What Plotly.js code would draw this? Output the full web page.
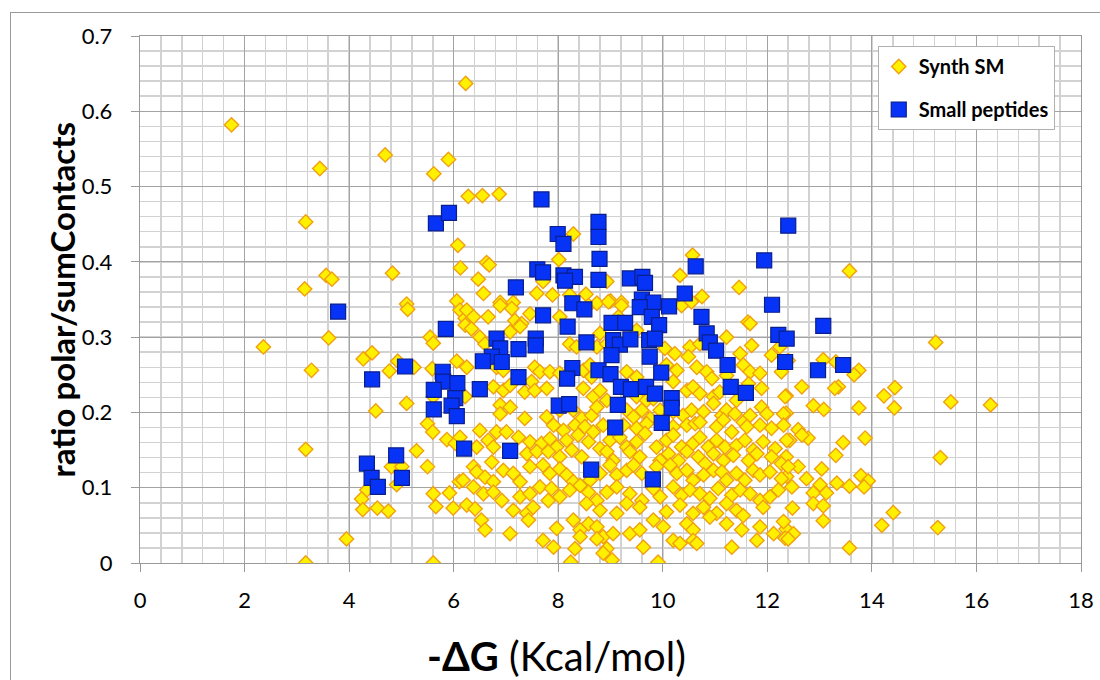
<!DOCTYPE html>
<html>
<head>
<meta charset="utf-8">
<script src="https://cdn.plot.ly/plotly-3.0.1.min.js"></script>
<style>
  html, body { margin: 0; padding: 0; background: #ffffff; overflow: hidden; }
  #frame { position: absolute; left: 10px; top: 12px; width: 1200px; height: 800px; border: 1px solid #9a9a9a; }
  #chart { position: absolute; left: 0; top: 0; width: 1100px; height: 680px; }
</style>
</head>
<body>
<div id="frame"></div>
<div id="chart"></div>
<script>
// ---- Data: Synth SM (x = -ΔG kcal/mol, y = ratio polar/sumContacts) ----
const synthSparse = [
  [6.23,0.637],[1.75,0.582],[4.69,0.542],[3.44,0.524],[5.90,0.536],[5.62,0.517],[6.28,0.487],[3.17,0.453],
  [6.08,0.422],[6.13,0.392],[3.56,0.382],[3.67,0.377],[4.83,0.385],[3.15,0.364],[6.06,0.348],[5.10,0.344],
  [6.55,0.488],[6.87,0.490],[8.29,0.437],[6.63,0.399],[6.68,0.396],[8.01,0.403],[6.47,0.377],[10.57,0.409],
  [10.33,0.382],[11.46,0.366],[10.75,0.354],[6.57,0.358],[7.59,0.358],[7.89,0.356],[8.53,0.357],[8.93,0.374],
  [7.71,0.374],[6.89,0.346],[7.14,0.346],[8.22,0.356],[9.00,0.348],[9.21,0.346],[13.57,0.388],[11.63,0.320],
  [5.12,0.337],[3.61,0.299],[2.36,0.287],[4.27,0.271],[4.44,0.279],[3.28,0.256],[4.77,0.255],[4.93,0.268],
  [5.24,0.260],[5.59,0.258],[4.51,0.202],[5.10,0.212],[5.55,0.300],[5.61,0.292],[6.06,0.268],[5.61,0.221],
  [5.50,0.185],[5.60,0.174],[5.87,0.164],[6.03,0.159],[5.29,0.149],[3.17,0.151],[5.50,0.128],[4.81,0.128],
  [5.01,0.128],[4.91,0.104],[4.34,0.097],[4.24,0.085],[4.26,0.071],[4.54,0.073],[4.75,0.069],[5.61,0.092],
  [5.92,0.093],[6.11,0.108],[5.66,0.075],[5.99,0.073],[3.95,0.032],[3.17,0.000],[5.61,0.000],[6.12,0.336],
  [6.22,0.325],
  [15.22,0.293],[13.75,0.256],[13.66,0.250],[13.07,0.270],[13.31,0.267],[12.66,0.234],[13.36,0.234],[13.29,0.232],
  [12.36,0.222],[14.44,0.233],[14.23,0.222],[15.51,0.214],[16.27,0.210],[14.43,0.206],[12.88,0.209],[13.08,0.204],
  [13.75,0.206],[12.36,0.199],[12.59,0.177],[12.43,0.163],[12.78,0.166],[12.66,0.170],[13.45,0.160],[13.87,0.166],
  [15.31,0.140],[13.31,0.143],[12.36,0.141],[12.59,0.128],[13.04,0.125],[12.37,0.115],[12.47,0.101],[12.75,0.112],
  [12.88,0.093],[13.01,0.104],[13.13,0.093],[13.33,0.106],[13.57,0.102],[13.79,0.116],[13.93,0.109],[13.85,0.101],
  [12.88,0.079],[13.07,0.076],[12.48,0.073],[14.41,0.067],[14.19,0.050],[15.26,0.047],[13.07,0.056],[12.36,0.045],
  [12.50,0.039],[12.34,0.033],[13.57,0.020]
];
const synthDense = [
  [6.25,0.336],[6.38,0.327],[6.66,0.327],[6.89,0.342],[7.11,0.338],[7.17,0.322],[7.30,0.318],[7.46,0.331],
  [8.03,0.327],[8.58,0.342],[8.74,0.345],[8.96,0.347],[9.21,0.342],[9.15,0.327],[10.36,0.342],[10.55,0.347],
  [11.67,0.318],[6.22,0.316],[6.34,0.311],
  [6.50,0.300],[6.60,0.291],[7.08,0.307],[7.27,0.314],[8.22,0.291],[8.35,0.287],[8.80,0.305],[8.74,0.287],
  [8.93,0.291],[9.50,0.309],[10.04,0.285],[10.23,0.278],[10.52,0.287],[10.71,0.291],[11.22,0.300],[11.48,0.278],
  [11.70,0.289],[12.08,0.276],[12.24,0.287],
  [6.25,0.260],[6.82,0.260],[6.95,0.256],[7.55,0.260],[7.65,0.254],[7.84,0.254],[8.03,0.252],[8.32,0.258],
  [8.48,0.256],[8.61,0.263],[8.64,0.247],[8.89,0.252],[9.31,0.254],[9.50,0.247],[10.07,0.263],[10.27,0.256],
  [10.49,0.274],[10.65,0.260],[10.84,0.254],[10.94,0.245],[11.22,0.249],[11.54,0.263],[11.67,0.254],[11.86,0.252],
  [12.27,0.254],[12.40,0.269],
  [6.76,0.234],[6.95,0.229],[7.08,0.236],[7.36,0.227],[7.49,0.241],[7.55,0.229],[7.78,0.232],[8.48,0.232],
  [8.67,0.221],[8.80,0.229],[8.93,0.216],[9.50,0.221],[9.69,0.216],[9.82,0.218],[10.20,0.241],[10.46,0.229],
  [10.58,0.234],[10.71,0.225],[10.97,0.221],[11.09,0.227],[11.41,0.216],[11.64,0.238],[11.89,0.232],[12.34,0.221],
  [6.22,0.221],
  [6.89,0.210],[7.08,0.207],[6.89,0.198],[7.36,0.192],[7.78,0.194],[8.03,0.203],[8.29,0.203],[8.45,0.192],
  [8.64,0.196],[8.74,0.207],[9.31,0.203],[9.44,0.194],[9.60,0.203],[9.76,0.192],[9.95,0.203],[10.20,0.201],
  [10.39,0.196],[10.55,0.203],[10.78,0.201],[10.97,0.212],[11.13,0.196],[11.22,0.203],[11.38,0.198],[11.54,0.187],
  [11.67,0.196],[11.89,0.207],[11.99,0.198],[12.31,0.198],[6.50,0.176],[6.82,0.174],[7.91,0.183],[8.10,0.176],
  [8.32,0.183],[8.51,0.181],[8.86,0.183],[9.25,0.183],[9.50,0.179],[9.69,0.185],[10.20,0.181],[10.46,0.183],
  [10.62,0.185],[10.71,0.187],[11.03,0.181],[11.16,0.190],[11.32,0.174],[11.61,0.181],[11.86,0.183],[12.08,0.179],
  [12.31,0.183],
  [6.12,0.167],[6.66,0.163],[6.76,0.154],[7.01,0.174],[7.24,0.167],[7.46,0.161],[7.68,0.159],[7.84,0.165],
  [7.97,0.154],[8.16,0.163],[8.38,0.170],[8.58,0.161],[8.67,0.174],[8.80,0.152],[8.99,0.163],[9.18,0.167],
  [9.31,0.154],[9.50,0.161],[9.66,0.172],[9.88,0.154],[10.07,0.163],[10.20,0.170],[10.36,0.154],[10.58,0.159],
  [10.71,0.167],[10.87,0.154],[11.03,0.163],[11.19,0.154],[11.41,0.156],[11.57,0.163],[11.73,0.150],[11.92,0.161],
  [12.15,0.152],[12.37,0.163],[6.44,0.154],[6.38,0.128],[6.73,0.134],[7.40,0.145],[7.59,0.148],[7.81,0.148],
  [8.03,0.141],[8.26,0.150],[8.45,0.141],[8.93,0.148],[9.05,0.136],[9.37,0.148],[9.56,0.141],[9.95,0.136],
  [10.11,0.145],[10.30,0.136],[10.46,0.148],[10.68,0.141],[10.81,0.132],[10.97,0.145],[11.16,0.136],[11.35,0.143],
  [11.64,0.136],[11.80,0.145],[12.08,0.141],[12.27,0.132],
  [6.18,0.110],[6.44,0.121],[6.60,0.114],[6.76,0.108],[6.95,0.123],[7.14,0.119],[7.27,0.108],[7.46,0.128],
  [7.71,0.130],[7.84,0.119],[8.03,0.125],[8.16,0.117],[8.29,0.108],[8.61,0.110],[8.80,0.119],[8.99,0.130],
  [9.12,0.117],[9.31,0.123],[9.44,0.130],[9.60,0.119],[9.88,0.128],[10.14,0.130],[10.27,0.119],[10.46,0.123],
  [10.58,0.110],[10.78,0.117],[10.97,0.123],[11.13,0.121],[11.22,0.110],[11.41,0.119],[11.57,0.110],[11.73,0.123],
  [11.86,0.117],[12.05,0.121],[12.27,0.112],[12.40,0.128],
  [6.38,0.101],[6.57,0.092],[6.76,0.094],[6.92,0.083],[7.27,0.088],[7.46,0.092],[7.65,0.101],[7.87,0.099],
  [8.03,0.088],[8.22,0.097],[8.42,0.103],[8.58,0.094],[8.74,0.083],[8.93,0.094],[9.12,0.101],[9.37,0.092],
  [9.60,0.083],[9.82,0.099],[9.95,0.088],[10.20,0.101],[10.36,0.090],[10.52,0.097],[10.71,0.092],[10.90,0.086],
  [11.06,0.099],[11.32,0.090],[11.48,0.097],[11.67,0.092],[11.86,0.083],[12.05,0.088],[12.21,0.097],[6.25,0.077],
  [6.41,0.072],[7.14,0.070],[7.40,0.066],[7.52,0.074],[7.81,0.083],[8.54,0.079],[8.80,0.070],[9.12,0.066],
  [9.31,0.079],[9.56,0.074],[10.07,0.068],[10.33,0.077],[10.58,0.066],[10.78,0.074],[11.03,0.066],[11.22,0.079],
  [11.41,0.070],[11.54,0.063],[11.92,0.074],
  [6.53,0.057],[6.60,0.044],[7.08,0.039],[7.43,0.057],[7.97,0.046],[8.29,0.057],[8.42,0.044],[8.58,0.052],
  [8.74,0.048],[8.86,0.035],[9.05,0.039],[9.37,0.039],[9.56,0.044],[9.82,0.057],[10.01,0.048],[10.46,0.052],
  [10.58,0.044],[10.90,0.061],[11.22,0.052],[11.51,0.044],[11.86,0.048],[12.12,0.039],[12.31,0.055],[7.71,0.030],
  [7.91,0.021],[8.32,0.019],[8.42,0.035],[8.74,0.032],[8.93,0.019],[9.63,0.021],[10.20,0.030],[10.33,0.026],
  [10.58,0.030],[10.65,0.026],[11.32,0.021],[11.80,0.030],[12.40,0.032],
  [8.24,0.001],[9.03,0.004],[9.91,0.001],[8.86,0.013]
];
// ---- Data: Small peptides ----
const peptides = [
  [3.79,0.334],[4.44,0.244],[4.34,0.132],[4.43,0.113],[4.55,0.101],[4.90,0.143],[5.01,0.113],[5.07,0.261],
  [5.66,0.451],[5.91,0.465],[5.85,0.311],[5.79,0.254],[5.80,0.241],[5.62,0.230],[6.07,0.239],[6.03,0.219],
  [5.62,0.204],[5.96,0.209],[6.06,0.195],[6.20,0.152],[7.68,0.483],[7.99,0.437],[8.10,0.424],[8.77,0.453],
  [8.77,0.433],[8.79,0.404],[7.60,0.390],[7.71,0.386],[8.10,0.382],[8.32,0.380],[8.13,0.375],[8.77,0.376],
  [9.37,0.378],[9.61,0.380],[9.66,0.372],[7.19,0.366],[10.63,0.394],[11.94,0.402],[12.40,0.448],[10.42,0.358],
  [8.27,0.345],[8.50,0.337],[9.60,0.350],[9.82,0.346],[9.56,0.340],[10.12,0.341],[12.09,0.343],[7.71,0.329],
  [8.18,0.314],[9.02,0.319],[9.28,0.319],[9.79,0.327],[9.93,0.316],[10.74,0.327],[6.82,0.298],[6.89,0.285],
  [7.57,0.298],[7.57,0.289],[7.24,0.284],[8.54,0.293],[9.05,0.296],[9.18,0.290],[9.38,0.297],[9.74,0.296],
  [9.85,0.298],[9.02,0.276],[9.75,0.274],[10.84,0.305],[10.90,0.293],[11.02,0.282],[12.21,0.303],[12.34,0.267],
  [6.73,0.274],[6.92,0.267],[6.56,0.268],[11.24,0.263],[8.27,0.259],[8.17,0.245],[8.77,0.256],[9.00,0.251],
  [9.97,0.253],[7.24,0.247],[9.20,0.234],[9.39,0.231],[9.68,0.234],[9.85,0.225],[10.17,0.219],[10.17,0.206],
  [11.30,0.234],[11.59,0.226],[6.50,0.231],[8.01,0.209],[8.21,0.211],[9.14,0.210],[9.98,0.186],[9.09,0.180],
  [7.08,0.149],[8.63,0.124],[9.81,0.111],[13.07,0.315],[12.37,0.298],[12.97,0.256],[13.45,0.263]
];
const xTickVals = [0,2,4,6,8,10,12,14,16,18];
const yTickVals = [0,0.1,0.2,0.3,0.4,0.5,0.6,0.7];
const yTickText = ['0','0.1','0.2','0.3','0.4','0.5','0.6','0.7'];
const seriesNames = ['Synth SM','Small peptides'];
const xTitle = '<b>-ΔG</b> (Kcal/mol)';
const yTitle = '<b>ratio polar/sumContacts</b>';

const synthAll = synthSparse.concat(synthDense);

const traces = [
  {
    type: 'scatter', mode: 'markers', name: seriesNames[0], legendgroup: 'a',
    x: synthAll.map(p => p[0]), y: synthAll.map(p => p[1]),
    marker: { symbol: 'diamond', size: 11, color: '#FFF000', line: { color: '#F0A010', width: 1.4 } }
  },
  {
    type: 'scatter', mode: 'markers', name: seriesNames[1], legendgroup: 'b',
    x: peptides.map(p => p[0]), y: peptides.map(p => p[1]),
    marker: { symbol: 'square', size: 15, color: '#0633F5', line: { color: '#0A1F8C', width: 1.2 } }
  }
];

const gridMajor = '#a3a3a3';
const gridMinor = '#d2d2d2';
const fam = 'Lato, "Open Sans", sans-serif';
const tickFont = { family: fam, size: 22, color: '#000' };

const layout = {
  width: 1100, height: 680,
  margin: { l: 140, r: 19, t: 36, b: 117 },
  paper_bgcolor: 'rgba(0,0,0,0)', plot_bgcolor: '#ffffff',
  showlegend: true,
  legend: {
    x: 0.784, y: 0.981, xanchor: 'left', yanchor: 'top',
    bgcolor: '#ffffff', bordercolor: '#b0b0b0', borderwidth: 1,
    font: { family: fam, size: 20, color: '#000', weight: 'bold' },
    traceorder: 'grouped', tracegroupgap: 14
  },
  xaxis: {
    range: [0, 18], tickvals: xTickVals, ticks: 'outside', ticklen: 8, tickcolor: '#999', tickwidth: 1,
    ticklabelstandoff: 9,
    showgrid: true, gridcolor: gridMajor, gridwidth: 1.2,
    minor: { dtick: 0.4, showgrid: true, gridcolor: gridMinor, gridwidth: 1.5, ticks: '' },
    showline: true, linecolor: '#999', linewidth: 1.2, mirror: true,
    zeroline: false, tickfont: tickFont, fixedrange: true
  },
  yaxis: {
    range: [0, 0.7], tickvals: yTickVals, ticktext: yTickText, ticks: 'outside', ticklen: 8, tickcolor: '#999', tickwidth: 1,
    ticklabelstandoff: 14,
    showgrid: true, gridcolor: gridMajor, gridwidth: 1.2,
    minor: { dtick: 0.02, showgrid: true, gridcolor: gridMinor, gridwidth: 1.5, ticks: '' },
    showline: true, linecolor: '#999', linewidth: 1.2, mirror: true,
    zeroline: false, tickfont: tickFont, fixedrange: true
  },
  annotations: [
    { text: xTitle, xref: 'paper', yref: 'paper', x: 0.443, y: -0.176, xanchor: 'center', yanchor: 'middle',
      showarrow: false, font: { family: fam, size: 40, color: '#000' } },
    { text: yTitle, xref: 'paper', yref: 'paper', x: -0.083, y: 0.5, xanchor: 'center', yanchor: 'middle',
      textangle: -90, showarrow: false, font: { family: fam, size: 33, color: '#000' } }
  ]
};

Plotly.newPlot('chart', traces, layout, { staticPlot: true, displayModeBar: false });
</script>
</body>
</html>
